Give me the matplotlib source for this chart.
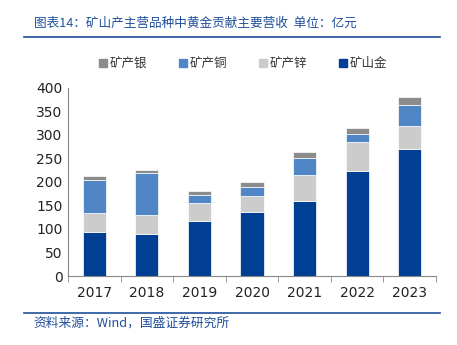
import matplotlib
matplotlib.use("Agg")
import matplotlib.pyplot as plt
import numpy as np
from matplotlib.lines import Line2D

plt.rcParams['font.family'] = ['Noto Sans CJK SC', 'DejaVu Sans']

years = ['2017', '2018', '2019', '2020', '2021', '2022', '2023']
gold = [92.6, 89.8, 115.9, 135.7, 158.3, 223.3, 270.0]
zinc = [40.3, 40.2, 38.1, 33.3, 56.5, 62.2, 48.7]
copper = [71.1, 88.4, 18.4, 20.4, 36.1, 16.3, 44.6]
silver = [8.7, 7.6, 8.6, 10.6, 12.7, 13.4, 16.2]

names = ['矿产银', '矿产铜', '矿产锌', '矿山金']
colors = {'矿产银': '#8C8C8C', '矿产铜': '#5086C6', '矿产锌': '#CCCCCC', '矿山金': '#003F94'}

fig = plt.figure(figsize=(4.57, 3.45), dpi=100)
ax = fig.add_axes([0.149, 0.2, 0.805, 0.546])

x = np.arange(len(years))
w = 0.44
g = np.array(gold); z = np.array(zinc); c = np.array(copper); s = np.array(silver)
kw = dict(width=w, edgecolor='white', linewidth=0.5)
ax.bar(x, g, color=colors['矿山金'], **kw)
ax.bar(x, z, bottom=g, color=colors['矿产锌'], **kw)
ax.bar(x, c, bottom=g + z, color=colors['矿产铜'], **kw)
ax.bar(x, s, bottom=g + z + c, color=colors['矿产银'], **kw)

ax.set_xlim(-0.5, len(years) - 0.5)
ax.set_ylim(0, 400)
ax.set_yticks(range(0, 401, 50))
ax.set_xticks(x)
ax.set_xticklabels(years, family=['DejaVu Sans'])
ax.set_xticks(np.arange(-0.5, len(years), 1), minor=True)
ax.tick_params(axis='x', which='major', length=0, pad=7, labelsize=10, colors='#222222')
ax.tick_params(axis='x', which='minor', length=4, direction='out', color='#888888')
ax.tick_params(axis='y', length=0, pad=4, labelsize=10, colors='#222222')
for lab in ax.get_yticklabels():
    lab.set_family(['DejaVu Sans'])
for sp in ['top', 'right']:
    ax.spines[sp].set_visible(False)
ax.spines['left'].set_color('#888888')
ax.spines['bottom'].set_color('#888888')
ax.spines['left'].set_linewidth(0.8)
ax.spines['bottom'].set_linewidth(0.8)

# legend
handles = [Line2D([], [], marker='s', linestyle='', markersize=6,
                  markerfacecolor=colors[n], markeredgecolor=colors[n]) for n in names]
fig.legend(handles, names, loc='center', bbox_to_anchor=(0.528, 0.815), ncol=4,
           frameon=False, fontsize=9, handletextpad=0.0, columnspacing=2.2,
           handlelength=1.2, labelcolor='#333333')

# title & lines
fig.text(0.074, 0.931, '图表14：矿山产主营品种中黄金贡献主要营收  单位：亿元',
         fontsize=9.1, color='#1F4E9A', va='center', ha='left')
fig.add_artist(Line2D([0.053, 0.963], [0.893, 0.893], color='#1F4E9A', linewidth=1.2))
fig.add_artist(Line2D([0.053, 0.963], [0.093, 0.093], color='#1F4E9A', linewidth=1.2))
fig.text(0.074, 0.063, '资料来源：Wind，国盛证券研究所', fontsize=9.2,
         color='#1F4E9A', va='center', ha='left')

fig.savefig('out.png', dpi=100)
